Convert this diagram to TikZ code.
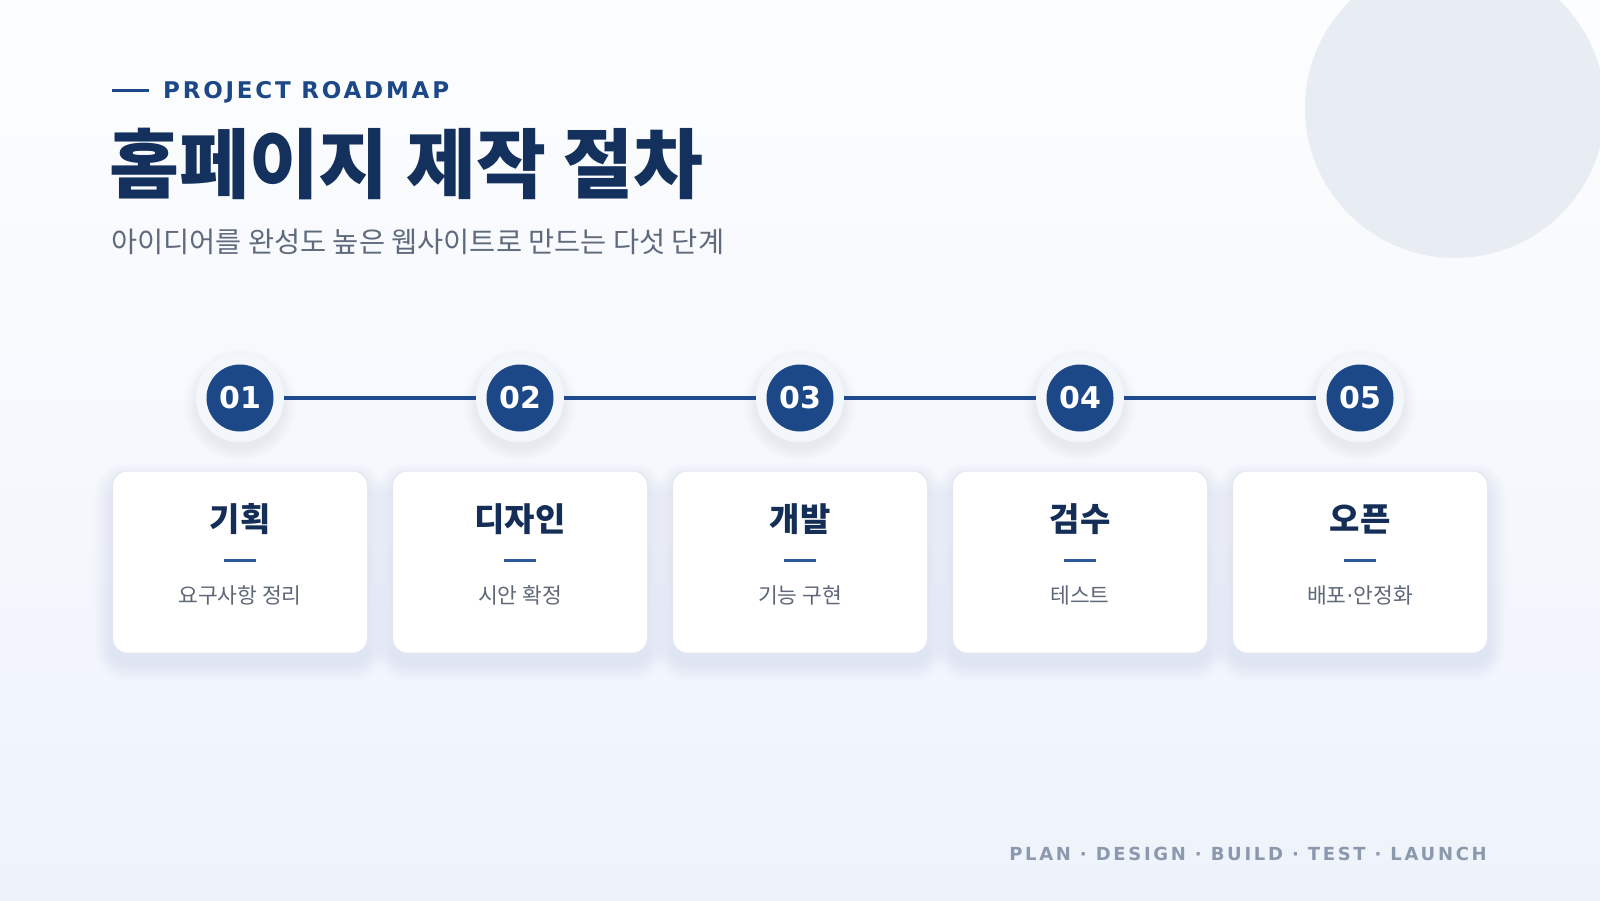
\documentclass[tikz,border=0pt]{standalone}
\usepackage{fontspec}
\setmainfont{DejaVu Sans}
\newfontfamily\kr{Noto Sans CJK KR}
\newfontfamily\latn{DejaVu Sans}
\newfontfamily\tagfont{DejaVu Sans}[LetterSpace=12]
\newfontfamily\footfont{DejaVu Sans}[LetterSpace=15]
\definecolor{bgtop}{HTML}{FCFDFE}
\definecolor{bgbot}{HTML}{EEF3FB}
\definecolor{deco}{HTML}{E8EDF4}
\definecolor{navy}{HTML}{14305C}
\definecolor{accent}{HTML}{1C4888}
\definecolor{linec}{HTML}{1E4B8F}
\definecolor{subgray}{HTML}{5F6B7D}
\definecolor{cardtitle}{HTML}{152E58}
\definecolor{cardgray}{HTML}{5E6878}
\definecolor{dashc}{HTML}{2D5A9A}
\definecolor{footc}{HTML}{8C98AE}
\definecolor{halo}{HTML}{F3F6FB}
\definecolor{cardborder}{HTML}{E2E8F0}
\definecolor{shadowc}{HTML}{56688A}
\tikzset{
  card/.style={draw=cardborder, line width=1pt, fill=white, rounded corners=15pt,
    minimum width=255pt, minimum height=182pt, inner sep=0pt},
  halonode/.style={circle, fill=halo, minimum size=88pt, inner sep=0pt},
  numnode/.style={circle, fill=accent, minimum size=67pt, inner sep=0pt,
    text=white, font=\bfseries\fontsize{30}{30}\selectfont},
  tl/.style={draw=linec, line width=3.5pt},
  cardtitlefont/.style={text=cardtitle, inner sep=0pt, font=\kr\bfseries\fontsize{33}{33}\selectfont},
  cardsubfont/.style={text=cardgray, inner sep=0pt, font=\kr\fontsize{21.5}{21.5}\selectfont},
  minidash/.style={draw=dashc, line width=3pt},
}
\begin{document}
\begin{tikzpicture}[x=1pt,y=-1pt]
\useasboundingbox (0,0) rectangle (1600,900);
\shade[top color=bgtop, bottom color=bgbot] (0,0) rectangle (1600,900);
\fill[deco] (1455,108) circle (150pt);

% header
\coordinate (dashL) at (112,90);
\coordinate (dashR) at (149,90);
\draw[draw=accent, line width=3pt] (dashL) -- (dashR);
\node[anchor=base west, inner sep=0pt, text=accent, font=\tagfont\bfseries\fontsize{23}{23}\selectfont] (tag) at (163,98.3) {PROJECT ROADMAP};
\node[anchor=west, inner sep=0pt, text=navy, font=\kr\bfseries\fontsize{76}{76}\selectfont] (title) at (109,164) {홈페이지 제작 절차};
\node[anchor=west, inner sep=0pt, text=subgray, font=\kr\fontsize{28.4}{28.4}\selectfont] (subtitle) at (111,242) {아이디어를 완성도 높은 웹사이트로 만드는 다섯 단계};

% shadows
\foreach \x in {240,520,800,1080,1360} {
  \foreach \k in {1,...,9} {
    \pgfmathsetmacro{\rr}{15+2*\k}
    \fill[shadowc, opacity=0.006, rounded corners=\rr pt]
      (\x-127.5-2*\k, 471+10-2*\k) rectangle (\x+127.5+2*\k, 653+10+2*\k);
  }
  \foreach \k in {1,...,7} {
    \pgfmathsetmacro{\cr}{43+1.8*\k}
    \fill[shadowc, opacity=0.011] (\x,405) circle (\cr pt);
  }
}

% steps
\foreach \x/\n/\t/\s in {240/01/기획/요구사항 정리, 520/02/디자인/시안 확정, 800/03/개발/기능 구현, 1080/04/검수/테스트, 1360/05/오픈/{배포{\latn ·}안정화}} {
  \node[halonode] (h\n) at (\x,398) {};
  \node[numnode] (n\n) at (\x,398) {\n};
  \node[card] (c\n) at (\x,562) {};
  \node[cardtitlefont] (t\n) at (\x,519.5) {\t};
  \coordinate (dl\n) at (\x-16,560);
  \coordinate (dr\n) at (\x+16,560);
  \draw[minidash] (dl\n) -- (dr\n);
  \node[cardsubfont] (s\n) at (\x,595) {\s};
}
\draw[tl] (h01) -- (h02);
\draw[tl] (h02) -- (h03);
\draw[tl] (h03) -- (h04);
\draw[tl] (h04) -- (h05);

% footer
\node[anchor=base east, inner sep=0pt, text=footc, font=\footfont\bfseries\fontsize{18}{18}\selectfont] (footer) at (1487,860) {PLAN · DESIGN · BUILD · TEST · LAUNCH};
\end{tikzpicture}
\end{document}
